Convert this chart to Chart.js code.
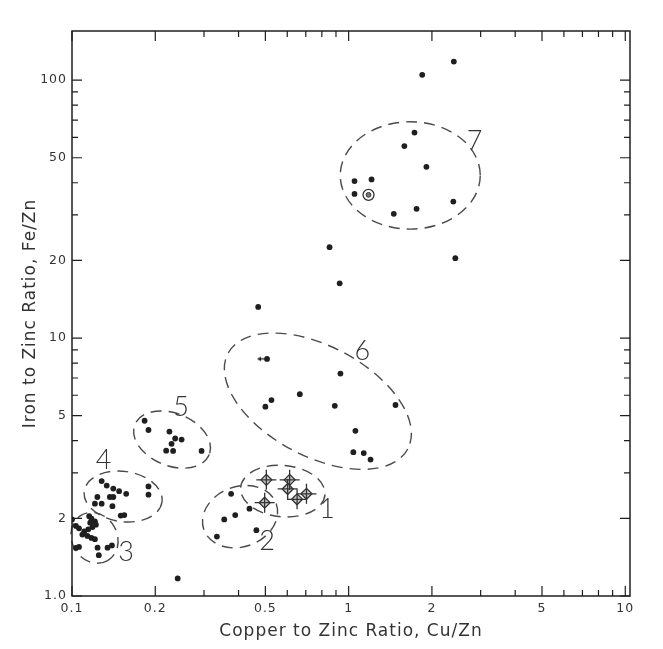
<!DOCTYPE html>
<html>
<head>
<meta charset="utf-8">
<script src="https://cdn.jsdelivr.net/npm/chart.js@4.4.0/dist/chart.umd.min.js"></script>
<style>
  html, body { margin: 0; padding: 0; background: #fff; }
  #wrap { width: 663px; height: 649px; }
</style>
</head>
<body>
<div id="wrap"><canvas id="ratio-chart"></canvas></div>
<script>
// axis ticks
const xTickLabels = [0.1, 0.2, 0.5, 1, 2, 5, 10];
const yTickLabels = [1, 2, 5, 10, 20, 50, 100];
const xMinorTicks = [0.3, 0.4, 0.6, 0.7, 0.8, 0.9, 3, 4, 6, 7, 8, 9];
const yMinorTicks = [3, 4, 6, 7, 8, 9, 30, 40, 60, 70, 80, 90];

// plain samples, Cu/Zn and Fe/Zn
const dotCuZn = [
  2.40, 1.845,
  1.73, 1.59, 1.91, 1.05, 1.21, 1.05, 1.456, 1.76, 2.39, 2.43,
  0.853, 0.928, 0.471,
  0.507, 0.934, 0.666, 0.526, 0.50, 0.891, 1.477, 1.058, 1.04, 1.134, 1.20,
  0.183, 0.189, 0.225, 0.236, 0.249, 0.229, 0.219, 0.232, 0.294,
  0.128, 0.1335, 0.141, 0.148, 0.157, 0.189, 0.189, 0.1235, 0.137, 0.141, 0.121, 0.128, 0.140, 0.150, 0.1545,
  0.1154, 0.1176, 0.121, 0.1164, 0.122, 0.1186, 0.1145, 0.1107, 0.106, 0.1033, 0.109, 0.1137, 0.1176, 0.121,
  0.1033, 0.106, 0.1237, 0.1344, 0.1394, 0.125, 0.1,
  0.376, 0.438, 0.389, 0.355, 0.464, 0.334,
  0.241
];
const dotFeZn = [
  118, 104.8,
  62.6, 55.5, 46.1, 40.6, 41.2, 36.2, 30.3, 31.7, 33.8, 20.4,
  22.5, 16.3, 13.2,
  8.30, 7.28, 6.06, 5.75, 5.42, 5.46, 5.50, 4.37, 3.61, 3.58, 3.38,
  4.78, 4.40, 4.34, 4.08, 4.04, 3.89, 3.66, 3.65, 3.65,
  2.79, 2.68, 2.61, 2.55, 2.49, 2.66, 2.47, 2.42, 2.42, 2.42, 2.28, 2.28, 2.23, 2.05, 2.06,
  2.04, 1.995, 1.948, 1.925, 1.89, 1.85, 1.814, 1.78, 1.83, 1.87, 1.73, 1.71, 1.68, 1.66,
  1.536, 1.55, 1.54, 1.54, 1.57, 1.44, 1.98,
  2.49, 2.18, 2.06, 1.98, 1.80, 1.70,
  1.17
];

// group 1 samples with error bars
const diamondCuZn = [0.504, 0.497, 0.612, 0.602, 0.651, 0.704];
const diamondFeZn = [2.82, 2.30, 2.82, 2.60, 2.37, 2.49];

// circled sample
const circledCuZn = [1.18];
const circledFeZn = [35.9];

// upper limit (arrow to the left)
const arrowCuZn = [0.507];
const arrowFeZn = [8.30];

// group outlines and numbers
const groupNames = ['1', '2', '3', '4', '5', '6', '7'];
const groupCuZn = [0.578, 0.405, 0.1206, 0.153, 0.23, 0.774, 1.67];
const groupFeZn = [2.55, 2.03, 1.68, 2.43, 4.04, 5.69, 42.7];
const labelCuZn = [0.836, 0.507, 0.1567, 0.130, 0.248, 1.12, 2.85];
const labelFeZn = [2.16, 1.63, 1.48, 3.35, 5.38, 8.91, 58];

// ellipse shape: semi axes in x decades, rotation in degrees
const groupShapes = [
  {a: 0.153, b: 0.093, rot: 5},
  {a: 0.139, b: 0.109, rot: -20},
  {a: 0.095, b: 0.082, rot: 60},
  {a: 0.142, b: 0.091, rot: 8},
  {a: 0.145, b: 0.095, rot: 22},
  {a: 0.368, b: 0.199, rot: 28},
  {a: 0.253, b: 0.194, rot: 0}
];

const ink = '#1f1f1f';

function pts(xs, ys) {
  return xs.map((x, i) => ({x: x, y: ys[i]}));
}

// small left arrow used as point style
function makeArrow() {
  const c = document.createElement('canvas');
  c.width = 24; c.height = 9;
  const g = c.getContext('2d');
  g.strokeStyle = ink;
  g.fillStyle = ink;
  g.lineWidth = 1.3;
  g.beginPath();
  g.moveTo(12, 4.5);
  g.lineTo(3, 4.5);
  g.stroke();
  g.beginPath();
  g.moveTo(2, 4.5);
  g.lineTo(6, 2.2);
  g.lineTo(6, 6.8);
  g.closePath();
  g.fill();
  return c;
}

const groupsPlugin = {
  id: 'groups',
  beforeDraw(chart) {
    chart.ctx.letterSpacing = '1px';
  },
  beforeDatasetsDraw(chart) {
    const ctx = chart.ctx;
    ctx.letterSpacing = '0px';
    const xs = chart.scales.x, ys = chart.scales.y;
    const dec = xs.getPixelForValue(1) - xs.getPixelForValue(0.1);
    ctx.save();
    ctx.strokeStyle = '#4a4a4a';
    ctx.lineWidth = 1.4;
    ctx.setLineDash([11, 7]);
    groupShapes.forEach((s, i) => {
      const cx = xs.getPixelForValue(groupCuZn[i]);
      const cy = ys.getPixelForValue(groupFeZn[i]);
      ctx.beginPath();
      ctx.ellipse(cx, cy, s.a * dec, s.b * dec, s.rot * Math.PI / 180, 0, Math.PI * 2);
      ctx.stroke();
    });
    ctx.setLineDash([]);
    ctx.fillStyle = '#333';
    ctx.font = '300 27px Lato, "DejaVu Sans", sans-serif';
    ctx.textAlign = 'center';
    ctx.textBaseline = 'middle';
    groupNames.forEach((t, i) => {
      ctx.fillText(t, xs.getPixelForValue(labelCuZn[i]), ys.getPixelForValue(labelFeZn[i]));
    });
    ctx.restore();
  }
};

// frame and inward ticks on all four sides
const framePlugin = {
  id: 'frame',
  afterDraw(chart) {
    const ctx = chart.ctx;
    const a = chart.chartArea;
    const xs = chart.scales.x, ys = chart.scales.y;
    ctx.save();
    ctx.strokeStyle = ink;
    ctx.lineWidth = 1.5;
    ctx.strokeRect(a.left, a.top, a.right - a.left, a.bottom - a.top);
    ctx.lineWidth = 1.2;
    ctx.beginPath();
    xs.ticks.forEach(t => {
      const px = xs.getPixelForValue(t.value);
      const len = xTickLabels.includes(t.value) ? 10 : 6;
      ctx.moveTo(px, a.bottom); ctx.lineTo(px, a.bottom - len);
      ctx.moveTo(px, a.top); ctx.lineTo(px, a.top + len);
    });
    ys.ticks.forEach(t => {
      const py = ys.getPixelForValue(t.value);
      const len = yTickLabels.includes(t.value) ? 10 : 6;
      ctx.moveTo(a.left, py); ctx.lineTo(a.left + len, py);
      ctx.moveTo(a.right, py); ctx.lineTo(a.right - len, py);
    });
    ctx.stroke();
    ctx.restore();
  }
};

const tickFont = {family: '"DejaVu Sans", sans-serif', size: 12.5};
const titleFont = {family: '"DejaVu Sans", sans-serif', size: 17};

const ctx = document.getElementById('ratio-chart').getContext('2d');
const ratioChart = new Chart(ctx, {
  type: 'scatter',
  data: {
    datasets: [
      {
        data: pts(dotCuZn, dotFeZn),
        pointStyle: 'circle', pointRadius: 2.9, pointBorderWidth: 0,
        backgroundColor: ink, borderColor: ink
      },
      {
        data: pts(diamondCuZn, diamondFeZn),
        pointStyle: 'cross', pointRadius: 10, pointBorderWidth: 1.3,
        borderColor: '#333'
      },
      {
        data: pts(diamondCuZn, diamondFeZn),
        pointStyle: 'rectRot', pointRadius: 5.5, pointBorderWidth: 1.3,
        backgroundColor: '#c8c8c8', borderColor: '#333'
      },
      {
        data: pts(diamondCuZn, diamondFeZn),
        pointStyle: 'circle', pointRadius: 2.2, pointBorderWidth: 1,
        backgroundColor: '#fff', borderColor: '#333'
      },
      {
        data: pts(circledCuZn, circledFeZn),
        pointStyle: 'circle', pointRadius: 5.5, pointBorderWidth: 1.3,
        backgroundColor: 'rgba(0,0,0,0)', borderColor: '#333'
      },
      {
        data: pts(circledCuZn, circledFeZn),
        pointStyle: 'circle', pointRadius: 2.4, pointBorderWidth: 1,
        backgroundColor: '#777', borderColor: '#333'
      },
      {
        data: pts(arrowCuZn, arrowFeZn),
        pointStyle: makeArrow(), pointRadius: 5
      }
    ]
  },
  options: {
    animation: false,
    responsive: true,
    maintainAspectRatio: false,
    layout: {padding: {left: 0, right: 33, top: 31, bottom: 0}},
    plugins: {
      legend: {display: false},
      tooltip: {enabled: false}
    },
    scales: {
      x: {
        type: 'logarithmic',
        min: 0.1,
        max: 10.4,
        grid: {display: false, drawTicks: false},
        border: {display: false},
        afterBuildTicks: s => {
          s.ticks = xTickLabels.concat(xMinorTicks).sort((p, q) => p - q).map(v => ({value: v}));
        },
        afterFit: s => { s.height = 53; },
        ticks: {
          autoSkip: false, maxRotation: 0, padding: 5,
          color: '#333', font: tickFont,
          callback: v => xTickLabels.includes(v) ? String(v) : ''
        },
        title: {
          display: true, text: 'Copper to Zinc Ratio, Cu/Zn',
          color: '#333', font: titleFont, padding: {top: 0, bottom: 7}
        }
      },
      y: {
        type: 'logarithmic',
        min: 1,
        max: 155,
        grid: {display: false, drawTicks: false},
        border: {display: false},
        afterBuildTicks: s => {
          s.ticks = yTickLabels.concat(yMinorTicks).sort((p, q) => p - q).map(v => ({value: v}));
        },
        afterFit: s => { s.width = 72; },
        ticks: {
          autoSkip: false, padding: 5,
          color: '#333', font: tickFont,
          callback: v => yTickLabels.includes(v) ? (v === 1 ? '1.0' : String(v)) : ''
        },
        title: {
          display: true, text: 'Iron to Zinc Ratio, Fe/Zn',
          color: '#333', font: titleFont, padding: {top: 20, bottom: 0}
        }
      }
    }
  },
  plugins: [groupsPlugin, framePlugin]
});
</script>
</body>
</html>
